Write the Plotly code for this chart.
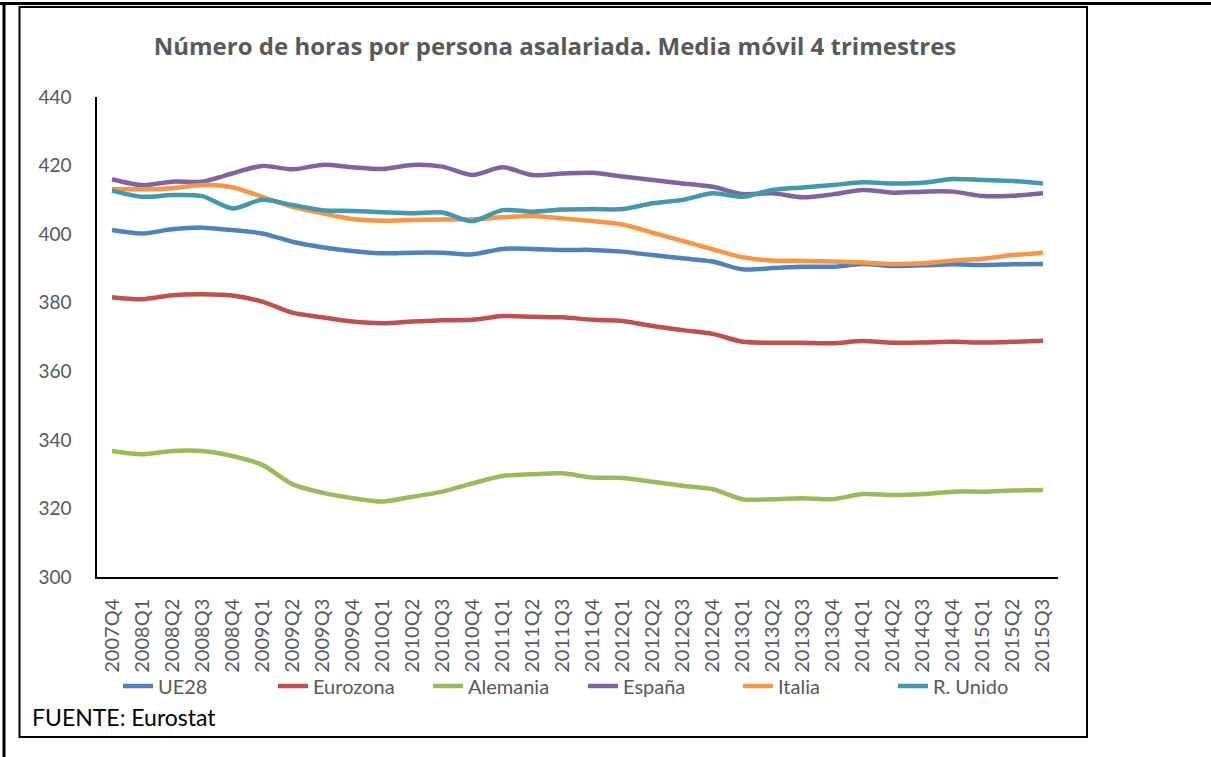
"""Horas por persona asalariada component."""

import plotly.graph_objs as go

W, H = 1211, 757
LEFT, RIGHT, TOP, BOTTOM = 97, 153, 97, 180
FONT = "Lato"
GREY = "#595959"

QUARTERS = [
    "2007Q4", "2008Q1", "2008Q2", "2008Q3", "2008Q4", "2009Q1", "2009Q2", "2009Q3",
    "2009Q4", "2010Q1", "2010Q2", "2010Q3", "2010Q4", "2011Q1", "2011Q2", "2011Q3",
    "2011Q4", "2012Q1", "2012Q2", "2012Q3", "2012Q4", "2013Q1", "2013Q2", "2013Q3",
    "2013Q4", "2014Q1", "2014Q2", "2014Q3", "2014Q4", "2015Q1", "2015Q2", "2015Q3",
]

SERIES = {
    "UE28": ("#4F81BD", [
        401.2, 400.2, 401.4, 401.9, 401.2, 400.2, 397.8, 396.2, 395.1, 394.4, 394.6,
        394.6, 394.1, 395.7, 395.7, 395.4, 395.4, 394.9, 393.9, 392.95, 392.0, 389.75,
        390.1, 390.5, 390.5, 391.3, 390.7, 390.9, 391.2, 391.0, 391.2, 391.3,
    ]),
    "Eurozona": ("#C0504D", [
        381.6, 381.0, 382.2, 382.5, 382.1, 380.3, 377.1, 375.75, 374.5, 374.0, 374.5,
        374.85, 375.0, 376.1, 375.9, 375.75, 375.0, 374.7, 373.2, 372.0, 370.9, 368.6,
        368.35, 368.35, 368.2, 368.8, 368.35, 368.4, 368.6, 368.4, 368.6, 368.9,
    ]),
    "Alemania": ("#9BBB59", [
        336.75, 335.8, 336.75, 336.75, 335.3, 332.7, 327.1, 324.6, 323.0, 322.0, 323.4,
        324.9, 327.3, 329.45, 329.95, 330.25, 329.0, 328.9, 327.8, 326.6, 325.6, 322.7,
        322.7, 323.0, 322.7, 324.2, 323.9, 324.2, 324.9, 324.9, 325.2, 325.4,
    ]),
    "España": ("#8064A2", [
        416.0, 414.3, 415.3, 415.3, 417.7, 419.9, 418.9, 420.2, 419.5, 419.0, 420.2,
        419.7, 417.25, 419.5, 417.25, 417.7, 417.9, 416.8, 415.8, 414.8, 413.8, 411.7,
        411.9, 410.75, 411.6, 412.9, 412.1, 412.4, 412.4, 411.1, 411.2, 411.9,
    ]),
    "Italia": ("#F79646", [
        413.2, 413.1, 413.4, 414.3, 413.7, 410.9, 408.0, 406.1, 404.4, 403.9, 404.1,
        404.3, 404.3, 404.9, 405.3, 404.6, 403.8, 402.8, 400.4, 398.0, 395.6, 393.25,
        392.3, 392.2, 392.0, 391.7, 391.3, 391.5, 392.3, 392.85, 393.9, 394.6,
    ]),
    "R. Unido": ("#4198AF", [
        412.7, 410.9, 411.4, 411.1, 407.5, 410.0, 408.5, 407.0, 406.75, 406.4, 406.1,
        406.3, 403.8, 407.0, 406.55, 407.2, 407.3, 407.3, 409.0, 410.0, 411.9, 410.9,
        412.9, 413.6, 414.3, 415.1, 414.8, 415.0, 416.1, 415.8, 415.5, 414.8,
    ]),
}


def px_x(x: float) -> float:
    """Converts a horizontal pixel position into paper units."""
    return (x - LEFT) / (W - LEFT - RIGHT)


def px_y(y: float) -> float:
    """Converts a vertical pixel position into paper units."""
    return (H - BOTTOM - y) / (H - TOP - BOTTOM)


def trace(name: str, color: str, values: list) -> go.Scatter:
    """Creates a smoothed line trace for one country or area.

    Args:
        name (str): The name shown in the legend.
        color (str): The color of the line.
        values (list): Hours per quarter.

    Returns:
        go.Scatter: The created trace.
    """
    return go.Scatter(
        x=QUARTERS,
        y=values,
        mode="lines",
        line=dict(color=color, width=4.5, shape="spline", smoothing=0.8),
        name=name,
    )


fig = go.Figure(data=[trace(n, c, v) for n, (c, v) in SERIES.items()])

frame = [
    dict(x0=px_x(0), x1=px_x(W), y0=px_y(3.5), y1=px_y(3.5)),  # top rule
    dict(x0=px_x(4), x1=px_x(4), y0=px_y(3), y1=px_y(H)),  # left rule
]
shapes = [dict(type="line", xref="paper", yref="paper", line=dict(color="black", width=3), **f)
          for f in frame]
shapes.append(dict(
    type="rect", xref="paper", yref="paper",
    x0=px_x(19.5), x1=px_x(1087), y0=px_y(7), y1=px_y(737),
    line=dict(color="black", width=2),
))

fig.update_layout(
    width=W,
    height=H,
    margin=dict(l=LEFT, r=RIGHT, t=TOP, b=BOTTOM, autoexpand=False),
    paper_bgcolor="white",
    plot_bgcolor="white",
    font=dict(family=FONT, size=20, color=GREY),
    title=dict(
        text="<b>Número de horas por persona asalariada. Media móvil 4 trimestres</b>",
        x=555 / W, xanchor="center", y=1 - 47 / H, yanchor="middle",
        font=dict(family="Open Sans", size=24, color=GREY),
    ),
    showlegend=True,
    legend=dict(
        orientation="h", x=px_x(118), xanchor="left", y=px_y(686), yanchor="middle",
        entrywidth=110, entrywidthmode="pixels",
        font=dict(family=FONT, size=20, color=GREY),
        bgcolor="rgba(0,0,0,0)",
    ),
    shapes=shapes,
    annotations=[dict(
        text="FUENTE: Eurostat", xref="paper", yref="paper",
        x=px_x(30), xanchor="left", y=px_y(717), yanchor="middle", showarrow=False,
        font=dict(family=FONT, size=23, color="black"),
    )],
)

fig.update_xaxes(
    type="category", range=[-0.5, 31.5], tickangle=-90,
    showline=True, linecolor="black", linewidth=1.5, showgrid=False,
    ticks="outside", ticklen=12, tickcolor="rgba(0,0,0,0)",
    tickfont=dict(family=FONT, size=20, color=GREY),
)
fig.update_yaxes(
    range=[300, 440], dtick=20,
    showline=True, linecolor="black", linewidth=1.5, showgrid=False, zeroline=False,
    ticks="outside", ticklen=20, tickcolor="rgba(0,0,0,0)",
    tickfont=dict(family=FONT, size=19, color=GREY),
)

fig.write_html(
    "out.html",
    config={"displayModeBar": False},
    post_script="document.body.style.margin = '0';",
)
